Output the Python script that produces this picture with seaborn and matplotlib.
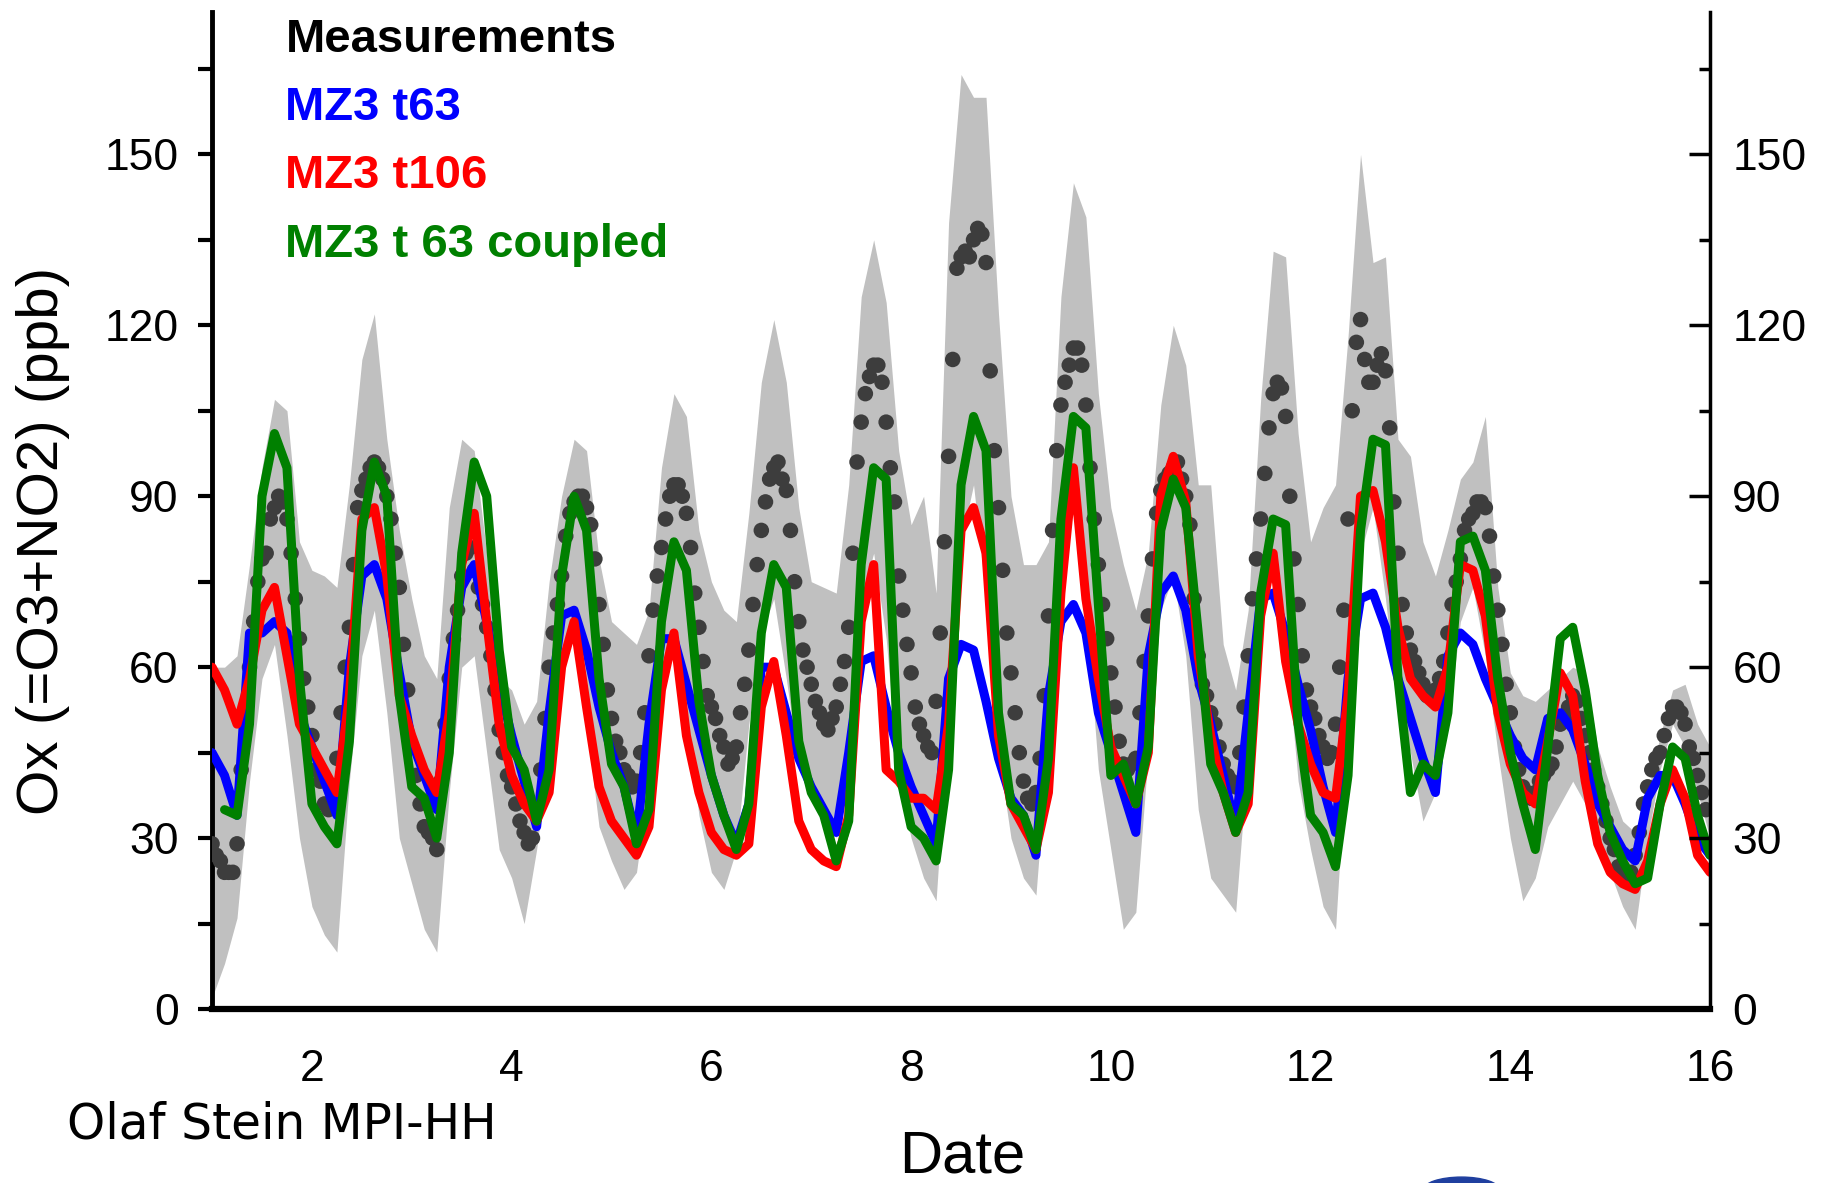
"""
Ox (=O3+NO2) time series: measurements with spread band vs. three MOZART runs.
"""

import numpy as np
import matplotlib
matplotlib.use("Agg")
import matplotlib.pyplot as plt
import seaborn as sns
from matplotlib.ticker import MultipleLocator
from matplotlib.patches import Ellipse

sns.set_style("white")
plt.rcParams["font.family"] = ["Liberation Sans", "DejaVu Sans"]
plt.rcParams.update({"text.color": "black", "axes.labelcolor": "black",
                     "xtick.color": "black", "ytick.color": "black",
                     "axes.edgecolor": "black"})

# ---- data ----
# hourly measurements, one row per day (day 1 .. 15)
obs = [
    29, 27, 26, 24, 24, 24, 29, 42, 52, 60, 68, 75, 79, 80, 86, 88, 90, 89, 86, 80, 72, 65, 58, 53,
    48, 42, 40, 36, 35, 38, 44, 52, 60, 67, 78, 88, 91, 93, 95, 96, 95, 93, 90, 86, 80, 74, 64, 56,
    46, 41, 36, 32, 31, 30, 28, 40, 50, 58, 65, 70, 76, 80, 81, 77, 74, 71, 67, 62, 56, 49, 45, 41,
    39, 36, 33, 31, 29, 30, 35, 42, 51, 60, 66, 71, 76, 83, 87, 89, 90, 90, 88, 85, 79, 71, 64, 56,
    51, 47, 45, 42, 41, 39, 40, 45, 52, 62, 70, 76, 81, 86, 90, 92, 92, 90, 87, 81, 73, 67, 61, 55,
    53, 51, 48, 46, 43, 44, 46, 52, 57, 63, 71, 78, 84, 89, 93, 95, 96, 93, 91, 84, 75, 68, 63, 60,
    57, 54, 52, 50, 49, 51, 53, 57, 61, 67, 80, 96, 103, 108, 111, 113, 113, 110, 103, 95, 89, 76, 70, 64,
    59, 53, 50, 48, 46, 45, 54, 66, 82, 97, 114, 130, 132, 133, 132, 135, 137, 136, 131, 112, 98, 88, 77, 66,
    59, 52, 45, 40, 37, 36, 38, 44, 55, 69, 84, 98, 106, 110, 113, 116, 116, 113, 106, 95, 86, 78, 71, 65,
    59, 53, 47, 43, 42, 43, 44, 52, 61, 69, 79, 87, 91, 93, 94, 95, 96, 93, 90, 85, 72, 62, 57, 55,
    52, 50, 46, 43, 41, 40, 39, 45, 53, 62, 72, 79, 86, 94, 102, 108, 110, 109, 104, 90, 79, 71, 62, 56,
    53, 51, 48, 46, 44, 45, 50, 60, 70, 86, 105, 117, 121, 114, 110, 110, 113, 115, 112, 102, 89, 80, 71, 66,
    63, 61, 59, 57, 55, 55, 56, 58, 61, 66, 71, 75, 79, 84, 86, 87, 89, 89, 88, 83, 76, 70, 64, 57,
    52, 46, 42, 39, 38, 37, 38, 40, 41, 42, 43, 46, 50, 51, 53, 55, 54, 51, 48, 45, 42, 39, 36, 33,
    30, 28, 25, 24, 23, 24, 27, 31, 36, 39, 42, 44, 45, 48, 51, 53, 53, 52, 50, 46, 44, 41, 38, 35,
]

# 3-hourly spread of the measurements (grey band), day 1.0 .. 16.0
band_hi = [
    60, 60, 62, 78, 95, 107, 105, 82,
    77, 76, 74, 92, 114, 122, 100, 84,
    72, 62, 58, 88, 100, 98, 80, 58,
    56, 50, 54, 75, 90, 100, 98, 79,
    68, 66, 64, 70, 95, 108, 104, 84,
    75, 70, 68, 87, 110, 121, 110, 88,
    75, 74, 73, 92, 125, 135, 124, 98,
    85, 90, 73, 138, 164, 160, 160, 122,
    90, 78, 78, 82, 125, 145, 139, 108,
    88, 78, 70, 80, 106, 120, 113, 92,
    92, 64, 56, 70, 107, 133, 132, 101,
    82, 88, 92, 118, 150, 131, 132, 100,
    97, 82, 76, 84, 93, 96, 104, 74,
    59, 55, 54, 56, 58, 60, 59, 46,
    39, 33, 31, 38, 48, 56, 57, 50,
    46,
]
band_lo = [
    2, 8, 16, 40, 58, 64, 48, 30,
    18, 13, 10, 40, 62, 70, 52, 30,
    22, 14, 10, 38, 60, 62, 45, 28,
    23, 15, 28, 45, 60, 66, 50, 32,
    26, 21, 24, 40, 60, 66, 52, 34,
    24, 21, 28, 50, 66, 72, 58, 42,
    38, 36, 30, 50, 72, 80, 65, 40,
    30, 23, 19, 52, 82, 92, 72, 45,
    30, 23, 20, 48, 78, 88, 70, 42,
    28, 14, 17, 45, 70, 76, 62, 35,
    23, 20, 17, 45, 72, 80, 64, 40,
    28, 18, 14, 50, 80, 88, 72, 52,
    45, 33, 38, 50, 68, 74, 62, 45,
    30, 19, 23, 32, 36, 40, 36, 30,
    24, 18, 14, 30, 42, 50, 46, 38,
    30,
]

# 3-hourly model output, day 1.0 .. 16.0
mz3_t63 = [
    45, 41, 34, 66, 66, 68, 66, 52,
    46, 40, 34, 60, 76, 78, 72, 59,
    47, 41, 35, 60, 74, 78, 68, 57,
    48, 40, 32, 52, 69, 70, 63, 53,
    45, 39, 30, 50, 65, 65, 57, 49,
    41, 34, 29, 36, 60, 60, 52, 44,
    39, 35, 31, 45, 61, 62, 53, 45,
    39, 34, 29, 58, 64, 63, 54, 44,
    37, 34, 27, 55, 68, 71, 66, 52,
    45, 38, 31, 62, 73, 76, 70, 58,
    50, 41, 32, 52, 72, 73, 66, 57,
    49, 39, 31, 58, 72, 73, 67, 58,
    51, 44, 38, 62, 66, 64, 58, 53,
    48, 44, 42, 51, 52, 49, 43, 36,
    32, 28, 26, 37, 41, 41, 36, 30,
    27,
]
mz3_t106 = [
    60, 56, 50, 58, 70, 74, 62, 50,
    46, 42, 38, 55, 86, 88, 76, 55,
    48, 42, 38, 52, 78, 87, 68, 50,
    41, 36, 33, 38, 60, 68, 53, 39,
    33, 30, 27, 32, 56, 66, 48, 38,
    31, 28, 27, 29, 53, 61, 48, 33,
    28, 26, 25, 34, 68, 78, 42, 40,
    37, 37, 35, 50, 84, 88, 80, 48,
    36, 32, 28, 38, 73, 95, 72, 58,
    46, 41, 36, 45, 90, 97, 89, 62,
    48, 38, 31, 36, 69, 80, 61, 50,
    43, 38, 37, 55, 90, 91, 82, 67,
    58, 55, 53, 60, 78, 77, 69, 52,
    43, 38, 36, 47, 59, 55, 40, 29,
    24, 22, 21, 26, 36, 42, 37, 27,
    24,
]
mz3_t63_coupled = [
    np.nan, 35, 34, 50, 90, 101, 95, 58,
    36, 32, 29, 47, 84, 96, 90, 55,
    39, 37, 30, 45, 80, 96, 90, 63,
    46, 42, 33, 42, 76, 90, 84, 58,
    43, 39, 29, 35, 68, 82, 77, 54,
    41, 34, 28, 36, 66, 78, 74, 47,
    38, 34, 26, 33, 78, 95, 93, 42,
    32, 30, 26, 42, 92, 104, 98, 52,
    36, 34, 28, 44, 86, 104, 102, 71,
    41, 43, 36, 46, 84, 93, 88, 66,
    43, 38, 31, 38, 73, 86, 85, 50,
    34, 31, 25, 41, 84, 100, 99, 58,
    38, 43, 41, 52, 82, 83, 77, 58,
    45, 36, 28, 46, 65, 67, 56, 41,
    31, 26, 22, 23, 36, 46, 44, 34,
    27,
]

legend_items = [
    ("Measurements", "black"),
    ("MZ3 t63", "#0000ff"),
    ("MZ3 t106", "#ff0000"),
    ("MZ3 t 63 coupled", "#008000"),
]

t_obs = 1 + np.arange(len(obs)) / 24.0
t_band = 1 + np.arange(len(band_hi)) / 8.0
t_mod = 1 + np.arange(len(mz3_t63)) / 8.0

# ---- figure ----
fig = plt.figure(figsize=(18.36, 11.83), dpi=100)
ax = fig.add_axes([0.1155, 0.147, 0.8159, 0.843])

ax.fill_between(t_band, band_lo, band_hi, color="#c0c0c0", lw=0, zorder=1)
sns.scatterplot(x=t_obs, y=obs, color="#3d3d3d", s=125, edgecolor="none",
                ax=ax, zorder=3, legend=False)
for ys, col in [(mz3_t63, "#0000ff"), (mz3_t106, "#ff0000"),
                (mz3_t63_coupled, "#008000")]:
    sns.lineplot(x=t_mod, y=ys, color=col, lw=6.5, ax=ax, sort=False,
                 errorbar=None, zorder=4, legend=False)

ax.set_xlim(1, 16)
ax.set_ylim(0, 175)
ax.set_xticks(range(2, 17, 2))
ax.xaxis.set_minor_locator(MultipleLocator(2 / 3))
ax.set_yticks(range(0, 151, 30))
ax.yaxis.set_minor_locator(MultipleLocator(15))

ax.spines["top"].set_visible(False)
ax.spines["right"].set_visible(False)
ax.spines["left"].set_linewidth(3.5)
ax.spines["bottom"].set_linewidth(4.5)

ax.tick_params(axis="y", which="major", direction="out", length=10, width=3,
               pad=14, labelsize=32)
ax.tick_params(axis="y", which="minor", direction="out", length=10, width=3)
ax.tick_params(axis="x", which="major", direction="out", length=15, width=2,
               pad=14, labelsize=32)
ax.tick_params(axis="x", which="minor", direction="out", length=8, width=2)

# right axis: inward ticks, mirrored labels
ax2 = ax.twinx()
ax2.set_ylim(0, 175)
ax2.set_yticks(range(0, 151, 30))
ax2.yaxis.set_minor_locator(MultipleLocator(15))
for s in ["top", "left", "bottom"]:
    ax2.spines[s].set_visible(False)
ax2.spines["right"].set_linewidth(2.5)
ax2.tick_params(axis="y", which="major", direction="in", length=15, width=2.5,
                pad=16, labelsize=32)
ax2.tick_params(axis="y", which="minor", direction="in", length=8, width=2.5)

ax.set_xlabel("")
ax.set_ylabel("")
fig.text(0.0234, 0.543, "Ox (=O3+NO2) (ppb)", rotation=90, ha="center",
         va="center", fontsize=42)
fig.text(0.524, 0.022, "Date", ha="center", va="center", fontsize=43)
fig.text(0.0365, 0.038, "Olaf Stein MPI-HH", ha="left", va="baseline",
         fontsize=35, family="DejaVu Sans")

for i, (label, col) in enumerate(legend_items):
    ax.text(0.049, 0.96 - i * 0.0685, label, transform=ax.transAxes,
            color=col, fontsize=34, fontweight="bold", va="baseline",
            ha="left", zorder=6)

# partially visible logo at the bottom edge
fig.patches.append(Ellipse((0.796, -0.006), 0.042, 0.022,
                           transform=fig.transFigure, color="#1f3f9f"))

fig.savefig("out.png", dpi=100)
